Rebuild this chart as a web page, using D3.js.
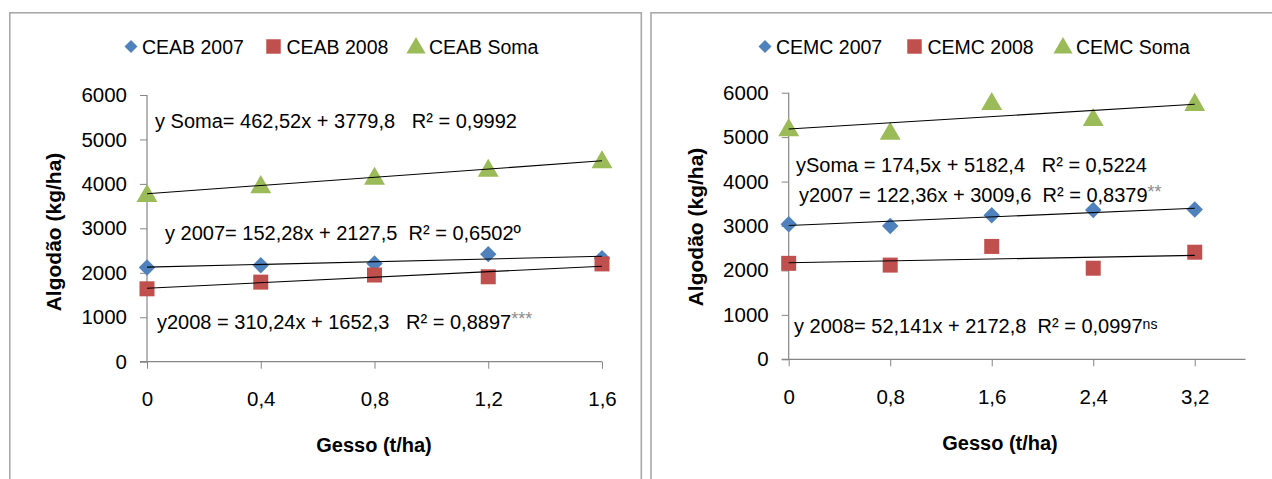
<!DOCTYPE html>
<html>
<head>
<meta charset="utf-8">
<script src="https://cdn.jsdelivr.net/npm/d3@7"></script>
<style>
  html, body { margin: 0; padding: 0; background: #fff; }
  svg text { font-family: "Liberation Sans", Arial, sans-serif; white-space: pre; fill: #000; }
</style>
</head>
<body>
<svg id="chart" width="1272" height="479"></svg>
<script>
// Doses de gesso (t/ha)
const dosesCEAB = [0, 0.4, 0.8, 1.2, 1.6];
const dosesCEMC = [0, 0.8, 1.6, 2.4, 3.2];

// Produtividade de algodão (kg/ha)
const ceab2007 = [2120, 2170, 2210, 2420, 2330];
const ceab2008 = [1640, 1790, 1950, 1910, 2200];
const ceabSoma = [3760, 3960, 4150, 4330, 4520];

const cemc2007 = [3040, 3000, 3240, 3360, 3370];
const cemc2008 = [2160, 2120, 2540, 2050, 2410];
const cemcSoma = [5190, 5110, 5780, 5420, 5760];

// Retas ajustadas: [inclinação, intercepto]
const fitCEAB2007 = [152.28, 2127.5];
const fitCEAB2008 = [310.24, 1652.3];
const fitCEABSoma = [462.52, 3779.8];
const fitCEMC2007 = [122.36, 3009.6];
const fitCEMC2008 = [52.141, 2172.8];
const fitCEMCSoma = [174.5, 5182.4];

// Eixos
const yTicks = [0, 1000, 2000, 3000, 4000, 5000, 6000];
const xTickLabelsCEAB = ["0", "0,4", "0,8", "1,2", "1,6"];
const xTickLabelsCEMC = ["0", "0,8", "1,6", "2,4", "3,2"];

const legendCEAB = ["CEAB 2007", "CEAB 2008", "CEAB Soma"];
const legendCEMC = ["CEMC 2007", "CEMC 2008", "CEMC Soma"];

const colors = ["#4F81BD", "#C0504D", "#9BBB59"];
// losango = quadrado girado 45°
const shapes = [d3.symbolSquare, d3.symbolSquare, d3.symbolTriangle];
const rotations = [45, 0, 0];
const markerSizes = [135, 225, 190];
const legendSizes = [85, 210, 160];

const svg = d3.select("#chart");

function drawPanel(cfg) {
  const g = svg.append("g");

  // moldura do gráfico
  g.append("rect")
    .attr("x", cfg.frame[0]).attr("y", cfg.frame[1])
    .attr("width", cfg.frame[2]).attr("height", cfg.frame[3])
    .attr("fill", "#fff").attr("stroke", "#a8a8a8").attr("stroke-width", 1.6);

  const x = d3.scaleLinear().domain(cfg.xDomain).range(cfg.xRange);
  const y = d3.scaleLinear().domain([0, 6000]).range(cfg.yRange);

  // eixo Y
  const yAxis = d3.axisLeft(y).tickValues(yTicks).tickSize(7).tickPadding(13)
    .tickFormat(d3.format("d"));
  const ya = g.append("g").attr("transform", `translate(${x(0)},0)`).call(yAxis);
  ya.select(".domain").attr("stroke", "#868686").attr("stroke-width", 1.2)
    .attr("d", `M-7,${y(0)}H0V${y(6000)}`);
  ya.selectAll(".tick line").attr("stroke", "#868686");
  ya.selectAll(".tick text").attr("font-size", 20.5).attr("fill", "#000");

  // eixo X
  const xAxis = d3.axisBottom(x).tickValues(cfg.doses).tickSize(7).tickPadding(23)
    .tickFormat((d, i) => cfg.xLabels[i]);
  const xa = g.append("g").attr("transform", `translate(0,${y(0)})`).call(xAxis);
  xa.select(".domain").attr("stroke", "#868686").attr("stroke-width", 1.2)
    .attr("d", `M${x(cfg.xDomain[0])},0H${x(cfg.xDomain[1])}`);
  xa.selectAll(".tick line").attr("stroke", "#868686");
  xa.selectAll(".tick text").attr("font-size", 20.5).attr("fill", "#000");

  // títulos dos eixos
  g.append("text")
    .attr("transform", `translate(${cfg.yTitle[0]},${cfg.yTitle[1]}) rotate(-90)`)
    .attr("text-anchor", "middle").attr("font-size", 21).attr("font-weight", "bold")
    .text("Algodão (kg/ha)");
  g.append("text")
    .attr("x", cfg.xTitle[0]).attr("y", cfg.xTitle[1])
    .attr("text-anchor", "middle").attr("font-size", 20).attr("font-weight", "bold")
    .text("Gesso (t/ha)");

  // pontos das séries
  cfg.series.forEach((vals, s) => {
    const sym = d3.symbol().type(shapes[s]).size(markerSizes[s]);
    g.append("g").selectAll("path")
      .data(vals)
      .join("path")
      .attr("transform", (v, i) =>
        `translate(${x(cfg.doses[i])},${y(v) + (s === 2 ? 1.5 : 0)}) rotate(${rotations[s]})`)
      .attr("d", sym)
      .attr("fill", colors[s]);
  });

  // retas de regressão
  const x0 = cfg.doses[0], x1 = cfg.doses[cfg.doses.length - 1];
  cfg.fits.forEach(f => {
    g.append("line")
      .attr("x1", x(x0)).attr("y1", y(f[1] + f[0] * x0))
      .attr("x2", x(x1)).attr("y2", y(f[1] + f[0] * x1))
      .attr("stroke", "#000").attr("stroke-width", 1.1);
  });

  // equações
  cfg.equations.forEach(eq => {
    const t = g.append("text").attr("x", eq.x).attr("y", eq.y).attr("font-size", 20);
    t.append("tspan").text(eq.main);
    if (eq.sup) {
      t.append("tspan").attr("dy", -4).attr("font-size", eq.supSize || 15)
        .attr("fill", eq.supColor || "#000").text(eq.sup);
    }
  });

  // legenda
  cfg.legend.forEach((name, s) => {
    const lx = cfg.legendX[s];
    const sym = d3.symbol().type(shapes[s]).size(legendSizes[s]);
    g.append("path")
      .attr("transform", `translate(${lx},${cfg.legendY + (s === 2 ? 1.5 : 0)}) rotate(${rotations[s]})`)
      .attr("d", sym).attr("fill", colors[s]);
    g.append("text")
      .attr("x", lx + (s === 0 ? 11 : 13)).attr("y", cfg.legendY + 7.5)
      .attr("font-size", 19.5).text(name);
  });
}

drawPanel({
  frame: [9.8, 12.8, 631.5, 520],
  xDomain: [0, 1.6], xRange: [147, 602], yRange: [361.7, 95],
  doses: dosesCEAB, xLabels: xTickLabelsCEAB,
  series: [ceab2007, ceab2008, ceabSoma],
  fits: [fitCEAB2007, fitCEAB2008, fitCEABSoma],
  yTitle: [61, 232], xTitle: [374, 452],
  legend: legendCEAB, legendX: [131, 273.5, 416], legendY: 46.5,
  equations: [
    { x: 155, y: 128, main: "y Soma= 462,52x + 3779,8   R² = 0,9992" },
    { x: 165, y: 240, main: "y 2007= 152,28x + 2127,5  R² = 0,6502º" },
    { x: 157, y: 329, main: "y2008 = 310,24x + 1652,3   R² = 0,8897", sup: "***", supColor: "#8c8c8c", supSize: 18 }
  ]
});

drawPanel({
  frame: [651, 12.8, 640, 520],
  xDomain: [0, 3.6], xRange: [788.7, 1245.5], yRange: [359.3, 92.7],
  doses: dosesCEMC, xLabels: xTickLabelsCEMC,
  series: [cemc2007, cemc2008, cemcSoma],
  fits: [fitCEMC2007, fitCEMC2008, fitCEMCSoma],
  yTitle: [703, 227], xTitle: [1000, 450],
  legend: legendCEMC, legendX: [765, 914.5, 1063], legendY: 46.5,
  equations: [
    { x: 796, y: 171.5, main: "ySoma = 174,5x + 5182,4   R² = 0,5224" },
    { x: 799, y: 202, main: "y2007 = 122,36x + 3009,6  R² = 0,8379", sup: "**", supColor: "#8c8c8c", supSize: 18 },
    { x: 794, y: 333, main: "y 2008= 52,141x + 2172,8  R² = 0,0997", sup: "ns", supColor: "#000", supSize: 14 }
  ]
});
</script>
</body>
</html>
